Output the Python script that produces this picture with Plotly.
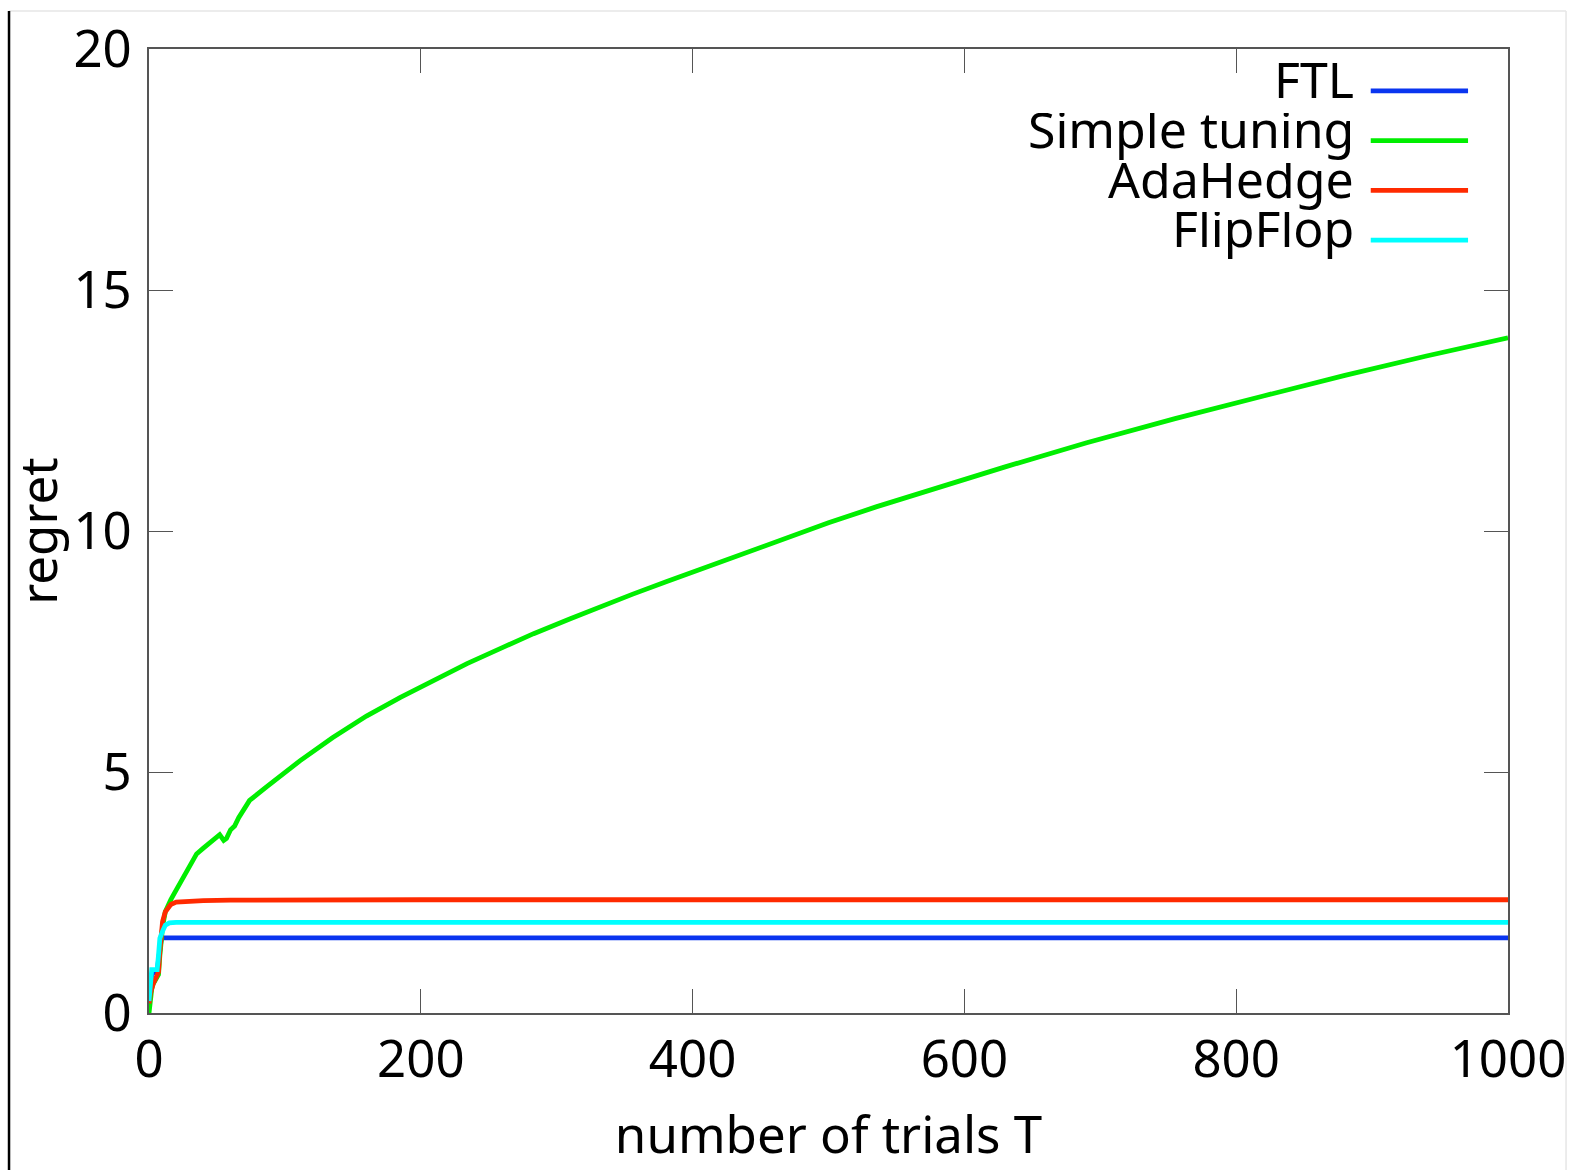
import plotly.graph_objects as go

# ---- data ----
ftl_T = [0, 1, 2, 4, 6, 7, 8, 9, 10, 12, 20, 50, 100, 200, 400, 600, 800, 1000]
ftl_R = [0.2, 0.5, 0.8, 0.85, 0.85, 1.1, 1.45, 1.52, 1.56, 1.56, 1.56, 1.56, 1.56, 1.56, 1.56, 1.56, 1.56, 1.56]

simple_T = [0, 1, 2, 3, 4, 5, 6, 7, 8, 9, 10, 12, 14, 16, 18, 20, 25, 30, 35, 40, 45, 50,
            52, 55, 57, 60, 63, 66, 74, 86, 100, 111, 135, 160, 185, 210, 234, 260, 283, 310,
            332, 356, 381, 405, 450, 500, 535, 569, 600, 630, 690, 755, 820, 880, 940, 1000]
simple_R = [0.0, 0.3, 0.5, 0.6, 0.65, 0.7, 0.75, 0.8, 1.2, 1.6, 1.8, 2.1, 2.25, 2.35, 2.45, 2.55,
            2.85, 3.1, 3.3, 3.42, 3.55, 3.65, 3.7, 3.58, 3.62, 3.8, 3.88, 4.05, 4.41, 4.68, 4.98,
            5.23, 5.71, 6.16, 6.55, 6.92, 7.25, 7.58, 7.87, 8.18, 8.43, 8.69, 8.95, 9.2, 9.67,
            10.17, 10.5, 10.8, 11.07, 11.33, 11.83, 12.33, 12.8, 13.23, 13.63, 14.01]

ada_T = [0, 1, 3, 5, 7, 8, 9, 10, 12, 14, 16, 20, 30, 40, 60, 100, 200, 400, 600, 800, 1000]
ada_R = [0.2, 0.4, 0.6, 0.75, 0.85, 1.3, 1.7, 1.9, 2.1, 2.2, 2.25, 2.3, 2.32, 2.33, 2.34, 2.35,
         2.35, 2.35, 2.35, 2.35, 2.35]

flip_T = [0, 1, 2, 4, 6, 7, 8, 10, 12, 15, 20, 50, 100, 200, 400, 600, 800, 1000]
flip_R = [0.25, 0.6, 0.9, 0.9, 0.9, 1.2, 1.55, 1.7, 1.82, 1.87, 1.88, 1.88, 1.88, 1.88, 1.88,
          1.88, 1.88, 1.88]

series_names = ["FTL", "Simple tuning", "AdaHedge", "FlipFlop"]
series_colors = ["#0a35f0", "#00ee00", "#ff2a00", "#00ffff"]
series_data = [(ftl_T, ftl_R), (simple_T, simple_R), (ada_T, ada_R), (flip_T, flip_R)]

x_ticks = [0, 200, 400, 600, 800, 1000]
y_ticks = [0, 5, 10, 15, 20]

FONT = "Noto Sans"
FS = 51

fig = go.Figure()
for name, color, (t, r) in zip(series_names, series_colors, series_data):
    fig.add_trace(go.Scatter(x=t, y=r, mode="lines", name=name,
                             line=dict(color=color, width=4.8), showlegend=False))

axis_common = dict(showgrid=False, zeroline=False, showline=True, linecolor="#555555",
                   linewidth=2, mirror="ticks", ticks="inside", ticklen=24, tickwidth=1,
                   tickcolor="#555555", tickfont=dict(family=FONT, size=FS, color="black"))

fig.update_xaxes(range=[0, 1000], tickvals=x_ticks, ticktext=[str(v) for v in x_ticks],
                 title=dict(text="number of trials T", font=dict(family=FONT, size=FS, color="black"),
                            standoff=26),
                 ticklabelstandoff=1, **axis_common)
fig.update_yaxes(range=[0, 20], tickvals=y_ticks, ticktext=[str(v) for v in y_ticks],
                 title=dict(text="regret", font=dict(family=FONT, size=FS, color="black"),
                            standoff=0),
                 ticklabelstandoff=5, **axis_common)

# gnuplot-style key: text on the left, line sample on the right
key_y = [0.9566, 0.905, 0.8533, 0.8017]
annotations = []
shapes = []
for name, color, ky in zip(series_names, series_colors, key_y):
    annotations.append(dict(xref="paper", yref="paper", x=0.8874, y=ky + 0.003, text=name,
                            showarrow=False, xanchor="right", yanchor="middle",
                            height=50, valign="bottom", borderpad=0,
                            font=dict(family=FONT, size=50, color="black")))
    shapes.append(dict(type="line", xref="paper", yref="paper", x0=0.899, x1=0.9706,
                       y0=ky, y1=ky, line=dict(color=color, width=4.8)))

# screenshot frame edges
shapes += [
    dict(type="rect", xref="paper", yref="paper", x0=1.0434, x1=1.07, y0=-0.2, y1=1.1,
         fillcolor="white", line=dict(width=0), layer="above"),
    dict(type="line", xref="paper", yref="paper", x0=-0.103, x1=1.0427, y0=1.0393, y1=1.0393,
         line=dict(color="#e6e6e6", width=1.5), layer="above"),
    dict(type="line", xref="paper", yref="paper", x0=1.0427, x1=1.0427, y0=-0.2, y1=1.0393,
         line=dict(color="#e6e6e6", width=1.5), layer="above"),
    dict(type="line", xref="paper", yref="paper", x0=-0.103, x1=-0.103, y0=-0.2, y1=1.0393,
         line=dict(color="black", width=2.5), layer="above"),
]

fig.update_layout(width=1579, height=1170, plot_bgcolor="white", paper_bgcolor="white",
                  margin=dict(l=149, r=71, t=45, b=157, pad=0),
                  annotations=annotations, shapes=shapes,
                  font=dict(family=FONT, size=FS, color="black"))

fig.write_html("out.html", config={"displayModeBar": False},
               post_script="document.body.style.margin='0px';document.body.style.overflow='hidden';")
